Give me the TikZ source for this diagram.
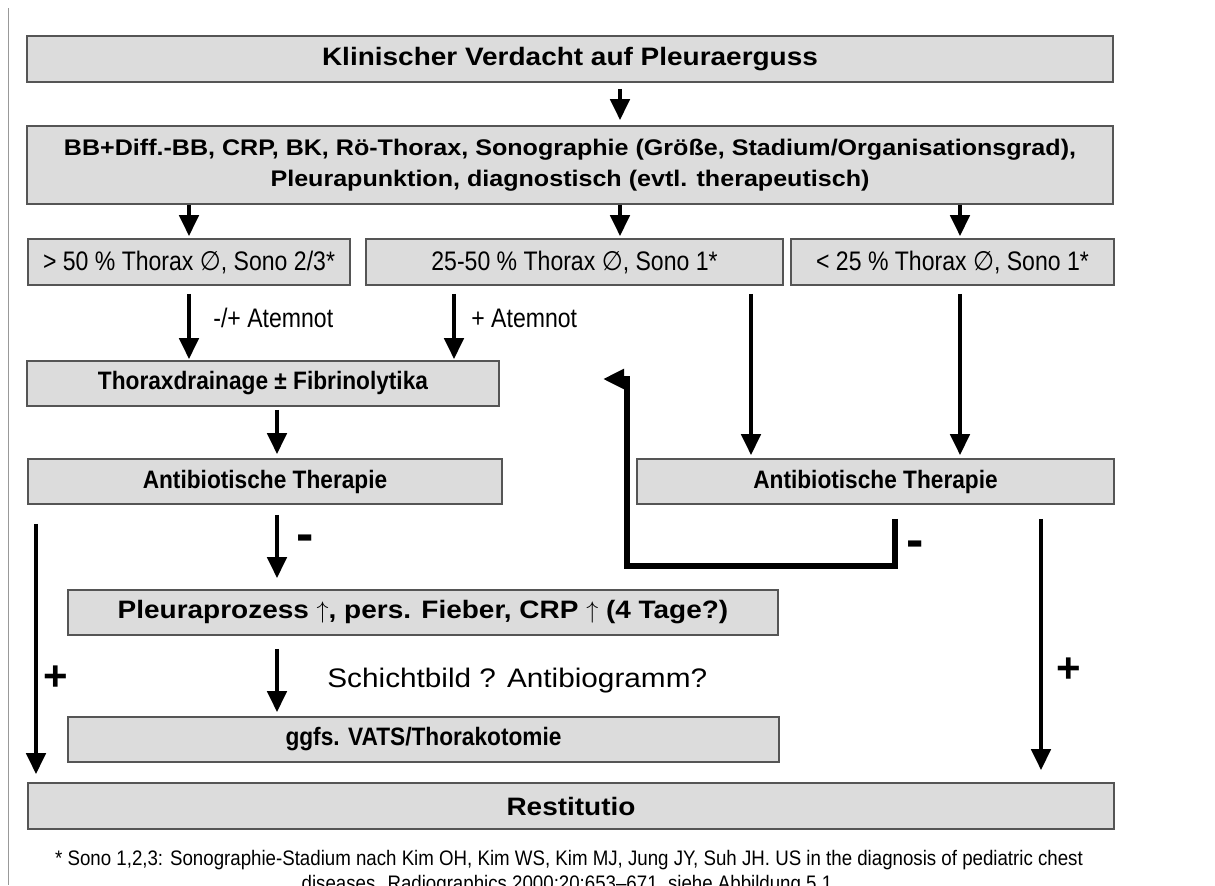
\documentclass[tikz,border=0pt]{standalone}
\usepackage{fontspec}
\setmainfont{Liberation Sans}
\newfontfamily\narrowfont{Liberation Sans}[FakeStretch=0.86]
\newfontfamily\notefont{Liberation Sans}[FakeStretch=0.89]
\newfontfamily\widefont{Liberation Sans}[FakeStretch=1.11]
\newfontfamily\slimfont{Liberation Sans}[FakeStretch=0.9]
\newfontfamily\symfont{DejaVu Sans}[FakeStretch=0.9]
\newcommand{\dm}{{\symfont ∅}}
\usetikzlibrary{arrows.meta}
\definecolor{boxgray}{HTML}{DCDCDC}
\definecolor{edgegray}{HTML}{555555}

\begin{document}
\begin{tikzpicture}[x=0.5pt,y=-0.5pt,
  box/.style={draw=edgegray, line width=0.8pt, fill=boxgray, inner sep=0pt, align=center,
    minimum height=23pt, font=\widefont\bfseries\fontsize{12.6}{15.5}\selectfont},
  slim/.style={font=\slimfont\bfseries\fontsize{12.6}{15.5}\selectfont},
  plain/.style={font=\narrowfont\fontsize{13.4}{16}\selectfont},
  lbl/.style={inner sep=0pt, font=\narrowfont\fontsize{13.4}{16}\selectfont},
  note/.style={inner sep=0pt, font=\notefont\fontsize{10.5}{12.5}\selectfont},
  sign/.style={inner sep=0pt, font=\bfseries\fontsize{21}{21}\selectfont},
  arr/.style={line width=2.3pt, -{Triangle[width=9.5pt,length=10.5pt]}}]
\useasboundingbox (0,0) rectangle (1215,885);
\draw[gray!80, line width=0.5pt] (8,8) -- (8,885);

% columns of the arrows
\coordinate (xa) at (189,0);
\coordinate (xb) at (454,0);
\coordinate (xmid) at (620,0);
\coordinate (xr1) at (751,0);
\coordinate (xr2) at (960,0);
\coordinate (xl) at (277,0);
\coordinate (xfar) at (36,0);
\coordinate (xfarr) at (1041,0);
\coordinate (xfb) at (895,0);
\coordinate (fbturn) at (627,566);
\coordinate (fbtip) at (603,379);

\node (kv) [box, minimum width=543pt] at (570,59) {Klinischer Verdacht auf Pleuraerguss};
\node (diag) [box, minimum width=543pt, minimum height=39pt, font=\widefont\bfseries\fontsize{11.3}{15.5}\selectfont] at (570,165) {BB+Diff.-BB, CRP, BK, Rö-Thorax, Sonographie (Größe, Stadium/Organisationsgrad),\\Pleurapunktion, diagnostisch (evtl. therapeutisch)};
\node (gt50) [box, plain, minimum width=161pt] at (189,262) {> 50 \% Thorax \dm, Sono 2/3*};
\node (mid) [box, plain, minimum width=208.5pt] at (574.5,262) {25-50 \% Thorax \dm, Sono 1*};
\node (lt25) [box, plain, minimum width=161.5pt] at (952.5,262) {< 25 \% Thorax \dm, Sono 1*};
\node (drain) [box, slim, minimum width=236pt, minimum height=22.5pt] at (263,383.5) {Thoraxdrainage ± Fibrinolytika};
\node (abl) [box, slim, minimum width=237pt, minimum height=22.5pt] at (265,481.5) {Antibiotische Therapie};
\node (abr) [box, slim, minimum width=238.5pt, minimum height=22.5pt] at (875.5,481.5) {Antibiotische Therapie};
\node (pleura) [box, minimum width=355pt, minimum height=22.5pt] at (423,612.5) {Pleuraprozess $\uparrow$, pers. Fieber, CRP $\uparrow$ (4 Tage?)};
\node (vats) [box, slim, minimum width=355.5pt, minimum height=22.5pt] at (423.5,739.5) {ggfs. VATS/Thorakotomie};
\node (rest) [box, minimum width=543pt] at (571,806) {Restitutio};

\node (atm1) [lbl, anchor=west] at (213,318) {-/+ Atemnot};
\node (atm2) [lbl, anchor=west] at (471,318) {+ Atemnot};
\node (minus1) [sign, font=\bfseries\fontsize{26}{26}\selectfont] at (305,543) {-};
\node (minus2) [sign, font=\bfseries\fontsize{26}{26}\selectfont] at (915,549) {-};
\node (schicht) [lbl, anchor=west, font=\widefont\fontsize{13.4}{16}\selectfont] at (327,681) {Schichtbild ? Antibiogramm?};
\node (plus1) [sign] at (56,678) {+};
\node (plus2) [sign] at (1069,670) {+};

\node (fn1) [note, anchor=base] at (569,865) {* Sono 1,2,3: Sonographie-Stadium nach Kim OH, Kim WS, Kim MJ, Jung JY, Suh JH. US in the diagnosis of pediatric chest};
\node (fn2) [note, anchor=base] at (567,890) {diseases. Radiographics 2000;20:653–671, siehe Abbildung 5.1};

\draw[arr, shorten <=3pt, shorten >=2.5pt] (kv.south -| xmid) -- (diag.north -| xmid);
\draw[arr, shorten >=1pt] (diag.south -| xa) -- (gt50.north -| xa);
\draw[arr, shorten >=1pt] (diag.south -| xmid) -- (mid.north -| xmid);
\draw[arr, shorten >=1pt] (diag.south -| xr2) -- (lt25.north -| xr2);
\draw[arr, shorten <=4pt, shorten >=0.5pt] (gt50.south -| xa) -- (drain.north -| xa);
\draw[arr, shorten <=4pt, shorten >=0.5pt] (mid.south -| xb) -- (drain.north -| xb);
\draw[arr, shorten <=4pt, shorten >=1.5pt] (mid.south -| xr1) -- (abr.north -| xr1);
\draw[arr, shorten <=4pt, shorten >=1.5pt] (lt25.south -| xr2) -- (abr.north -| xr2);
\draw[arr, shorten <=1.5pt, shorten >=2pt] (drain.south -| xl) -- (abl.north -| xl);
\draw[arr, shorten <=5pt, shorten >=5.5pt] (abl.south -| xl) -- (pleura.north -| xl);
\draw[arr, shorten <=6.5pt, shorten >=2pt] (pleura.south -| xl) -- (vats.north -| xl);
\draw[arr, shorten <=9.5pt, shorten >=4pt] (abl.south -| xfar) -- (rest.north -| xfar);
\draw[arr, shorten <=7pt, shorten >=6pt] (abr.south -| xfarr) -- (rest.north -| xfarr);
\draw[arr, line width=2.6pt, shorten <=7pt] (abr.south -| xfb) |- (fbturn) |- (fbtip);
\end{tikzpicture}
\end{document}
